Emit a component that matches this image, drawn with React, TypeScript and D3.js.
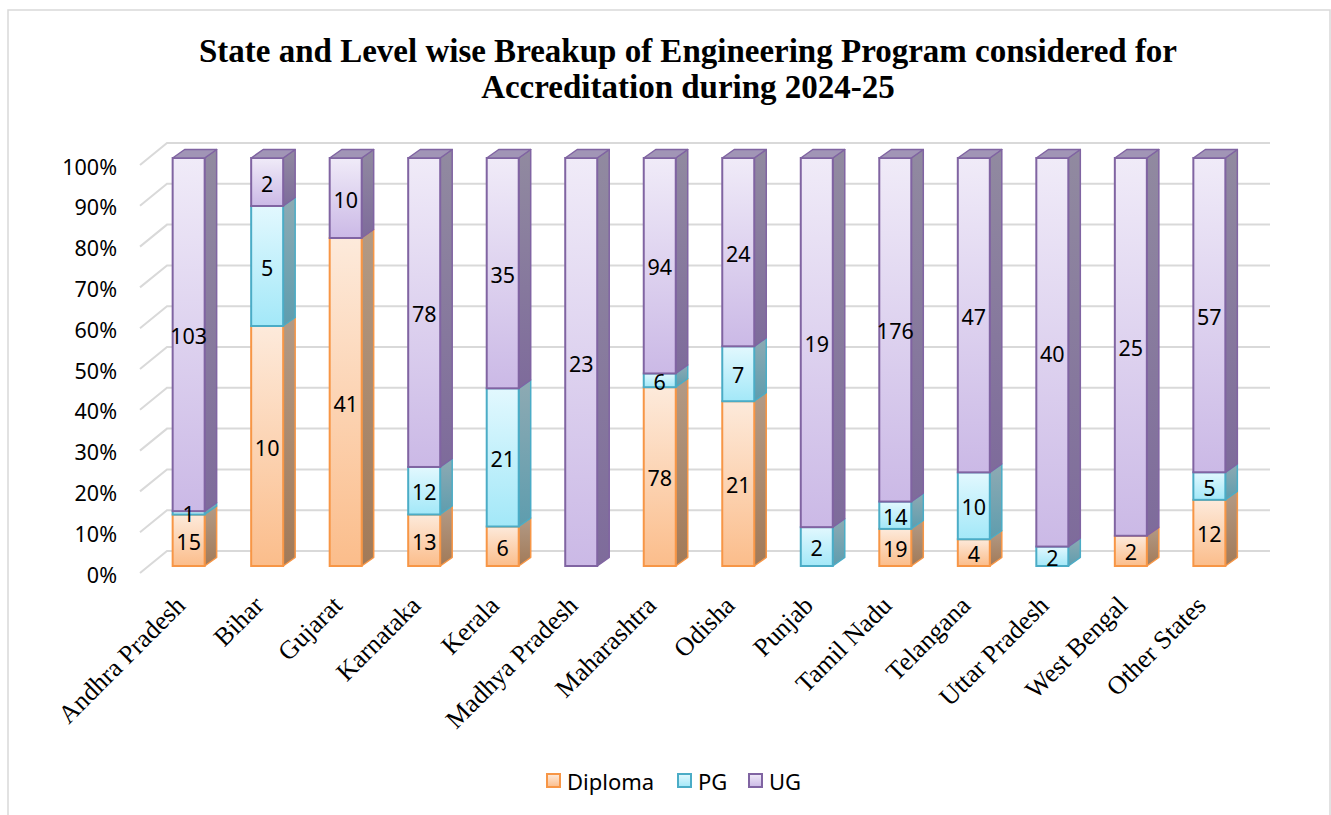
import React from "react";
import * as d3 from "d3";

const categories = ["Andhra Pradesh", "Bihar", "Gujarat", "Karnataka", "Kerala", "Madhya Pradesh", "Maharashtra", "Odisha", "Punjab", "Tamil Nadu", "Telangana", "Uttar Pradesh", "West Bengal", "Other States"];
const diploma = [15, 10, 41, 13, 6, 0, 78, 21, 0, 19, 4, 0, 2, 12];
const pg = [1, 5, 0, 12, 21, 0, 6, 7, 2, 14, 10, 2, 0, 5];
const ug = [103, 2, 10, 78, 35, 23, 94, 24, 19, 176, 47, 40, 25, 57];
const yTicks = [0, 0.1, 0.2, 0.3, 0.4, 0.5, 0.6, 0.7, 0.8, 0.9, 1];
const seriesNames = ["Diploma", "PG", "UG"];
const titleLines = ["State and Level wise Breakup of Engineering Program considered for", "Accreditation during 2024-25"];

const W = 1331, H = 815;

const styles = [
  { id: "dip", top: "#fdeadb", bot: "#fbbd8b", stroke: "#f79646", sideTop: "#b29a86", sideBot: "#a27a58", topFace: "#c0a690" },
  { id: "pg", top: "#e2f8fe", bot: "#a3e8f8", stroke: "#4bacc6", sideTop: "#8eaab3", sideBot: "#5e9dae", topFace: "#8fb3bd" },
  { id: "ug", top: "#f0ebf8", bot: "#cbb9e6", stroke: "#8064a2", sideTop: "#918aa0", sideBot: "#7e6b9b", topFace: "#a195b6" },
];

export default function App() {
  const x = d3.scaleBand<string>().domain(categories).range([149, 1249]).paddingInner(0.59).paddingOuter(0.3);
  const y = d3.scaleLinear().domain([0, 1]).range([566, 158]);
  const bw = 32;
  const dx = 12, dy = -8.5;

  const series = [diploma, pg, ug];

  return (
    <svg width={W} height={H} style={{ position: "absolute", left: 0, top: 0, background: "#fff" }}>
      <defs>
        {styles.map((s) => (
          <React.Fragment key={s.id}>
            <linearGradient id={`f-${s.id}`} x1="0" y1="0" x2="0" y2="1">
              <stop offset="0" stopColor={s.top} />
              <stop offset="1" stopColor={s.bot} />
            </linearGradient>
            <linearGradient id={`s-${s.id}`} x1="0" y1="0" x2="0" y2="1">
              <stop offset="0" stopColor={s.sideTop} />
              <stop offset="1" stopColor={s.sideBot} />
            </linearGradient>
          </React.Fragment>
        ))}
      </defs>
      <rect x={8} y={10} width={1322} height={830} fill="#fff" stroke="#d9d9d9" strokeWidth={1.5} />

      {titleLines.map((t, i) => (
        <text key={i} x={688} y={62 + i * 36} textAnchor="middle" fontFamily="'Liberation Serif', 'Times New Roman', serif" fontWeight="bold" fontSize={33} fill="#000">{t}</text>
      ))}

      {yTicks.map((t) => {
        const yy = y(t);
        return (
          <g key={t}>
            <polyline points={`140,${yy + 7} 167,${yy - 15} 1270,${yy - 15}`} fill="none" stroke="#d9d9d9" strokeWidth={2} />
            <text x={117} y={yy + 8} textAnchor="end" dominantBaseline="central" fontFamily="'Noto Sans', sans-serif" fontSize={21.5} fill="#000">{d3.format(".0%")(t)}</text>
          </g>
        );
      })}

      {categories.map((c, i) => {
        const total = diploma[i] + pg[i] + ug[i];
        const cx = (x(c) as number) + x.bandwidth() / 2;
        const x0 = cx - bw / 2, x1 = cx + bw / 2;
        let cum = 0;
        const segs = series.map((arr, k) => {
          const v = arr[i];
          const s0 = cum / total;
          cum += v;
          const s1 = cum / total;
          return { v, k, yb: y(s0), yt: y(s1) };
        }).filter((s) => s.v > 0);
        const topSeg = segs[segs.length - 1];
        return (
          <g key={c}>
            {segs.map((s) => {
              const st = styles[s.k];
              return (
                <g key={s.k}>
                  <polygon points={`${x1},${s.yt} ${x1 + dx},${s.yt + dy} ${x1 + dx},${s.yb + dy} ${x1},${s.yb}`} fill={`url(#s-${st.id})`} stroke={st.stroke} strokeWidth={1.5} strokeLinejoin="round" />
                  <rect x={x0} y={s.yt} width={bw} height={s.yb - s.yt} fill={`url(#f-${st.id})`} stroke={st.stroke} strokeWidth={2} />
                </g>
              );
            })}
            {topSeg && (
              <polygon points={`${x0},${topSeg.yt} ${x0 + dx},${topSeg.yt + dy} ${x1 + dx},${topSeg.yt + dy} ${x1},${topSeg.yt}`} fill={styles[topSeg.k].topFace} stroke={styles[topSeg.k].stroke} strokeWidth={1.5} strokeLinejoin="round" />
            )}
            {segs.map((s) => (
              <text key={`l${s.k}`} x={cx} y={(s.yb + s.yt) / 2 + 1} textAnchor="middle" dominantBaseline="central" fontFamily="'Noto Sans', sans-serif" fontSize={21.5} fill="#000">{s.v}</text>
            ))}
            <text transform={`translate(${cx - 2},${607}) rotate(-45)`} textAnchor="end" fontFamily="'Liberation Serif', 'Times New Roman', serif" fontSize={26} fill="#000">{c}</text>
          </g>
        );
      })}

      {seriesNames.map((n, k) => {
        const lx = [547, 678, 749][k];
        const st = styles[k];
        return (
          <g key={n}>
            <rect x={lx} y={774} width={13} height={13} fill={`url(#f-${st.id})`} stroke={st.stroke} strokeWidth={2} />
            <text x={lx + 20} y={781} dominantBaseline="central" fontFamily="'Noto Sans', sans-serif" fontSize={22} fill="#000">{n}</text>
          </g>
        );
      })}
    </svg>
  );
}
